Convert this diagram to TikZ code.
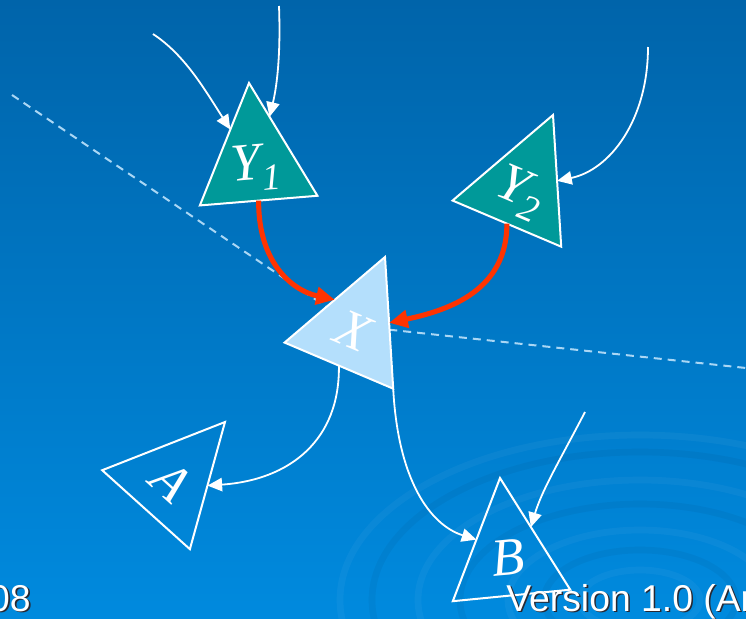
\documentclass[tikz,border=0pt]{standalone}
\usepackage{fontspec}
\setmainfont{Liberation Serif}
\newfontfamily\footfont{Liberation Sans}
\usepackage{xcolor}
\usepackage{tikz}
\usetikzlibrary{shapes.geometric, arrows.meta, calc}

\definecolor{bgtop}{RGB}{0,100,170}
\definecolor{bgbottom}{RGB}{0,138,222}
\definecolor{parentfill}{RGB}{0,153,153}
\definecolor{queryfill}{RGB}{180,223,252}
\definecolor{influence}{RGB}{255,51,0}
\definecolor{cutline}{RGB}{170,215,245}
\definecolor{shadowc}{RGB}{40,40,50}

\newcommand{\shadowed}[1]{\rlap{\kern1.2pt\raisebox{-1.2pt}{\color{shadowc}#1}}#1}

\begin{document}
\begin{tikzpicture}[x=0.75pt, y=-0.75pt,
  tri/.style    = {isosceles triangle, isosceles triangle stretches,
                   shape border rotate=90, minimum width=88.5pt,
                   minimum height=88.5pt, inner sep=0pt, outer sep=0pt,
                   draw=white, line width=1.5pt, anchor=apex},
  parent/.style = {tri, fill=parentfill},
  query/.style  = {tri, fill=queryfill},
  child/.style  = {tri},
  letter/.style = {text=white, inner sep=0pt,
                   font=\fontsize{40}{40}\selectfont\itshape},
  foot/.style   = {text=white, inner sep=0pt,
                   font=\footfont\fontsize{28}{28}\selectfont},
  link/.style   = {-{Triangle[length=11pt,width=10pt]}, white, line width=1.35pt},
  infl/.style   = {-{Triangle[length=14pt,width=13pt]}, influence, line width=3.8pt},
  cut/.style    = {cutline, line width=1.5pt, dash pattern=on 6pt off 4.5pt}
]

% ---------- background ----------
\useasboundingbox (0,0) rectangle (746,618);
\clip (0,0) rectangle (746,618);
\fill[top color=bgtop, bottom color=bgbottom] (0,0) rectangle (746,618);

\coordinate (rc) at (640,600);
\foreach \rx/\ry/\ringcol in {300/165/white, 268/148/black, 222/120/white,
                              180/96/black, 132/70/white, 96/50/black, 60/30/white}
  \draw[\ringcol, opacity=0.04, line width=5pt] (rc) ellipse [x radius=\rx, y radius=\ry];

% ---------- cut line ----------
\coordinate (d1) at (12,95);
\coordinate (d2) at (355,326);
\coordinate (d3) at (746,368);
\draw[cut] (d1) -- (d2) -- (d3);

% ---------- triangles ----------
\node[parent, rotate=4.7] (Y1) at (249,83)  {};
\node[parent, rotate=-23] (Y2) at (553,115) {};
\node[query,  rotate=-23] (X)  at (385,257) {};
\node[child,  rotate=-42] (A)  at (225,422) {};
\node[child,  rotate=5.6] (B)  at (500,478) {};

% ---------- letters ----------
\node[letter, rotate=4.7] (Y1l) at ($(Y1.apex)!0.72!(Y1.lower side)$)
  {Y\raisebox{-9pt}{\fontsize{28}{28}\selectfont 1}};
\node[letter, rotate=-23] (Y2l) at ($(Y2.apex)!0.72!(Y2.lower side)$)
  {Y\raisebox{-9pt}{\fontsize{28}{28}\selectfont 2}};
\node[letter, rotate=-23] (Xl)  at ($(X.apex)!0.68!(X.lower side)$) {X};
\node[letter, rotate=-42] (Al)  at ($(A.apex)!0.68!(A.lower side)$) {A};
\node[letter, rotate=5.6] (Bl)  at ($(B.apex)!0.68!(B.lower side)$) {B};

% ---------- arrows ----------
\coordinate (s1) at (153,34);
\coordinate (s2) at (279,6);
\coordinate (s3) at (648,47);
\coordinate (s4) at (585,412);

\draw[link] (s1) .. controls (185,55) and (205,90) .. ($(Y1.apex)!0.38!(Y1.left corner)$);
\draw[link] (s2) .. controls (281,60) and (276,90) .. ($(Y1.apex)!0.3!(Y1.right corner)$);
\draw[link] (s3) .. controls (648,120) and (610,170) .. (Y2.right side);

\draw[infl] (Y1.lower side) .. controls (258,260) and (290,290) .. (X.left side);
\draw[infl] (Y2.lower side) .. controls (507,290) and (450,310) .. (X.right side);

\draw[link] (X.lower side) .. controls (340,440) and (290,480) .. (A.right side);
\draw[link] (X.right corner) .. controls (398,480) and (430,525) .. (B.left side);
\draw[link] (s4) .. controls (560,460) and (542,490) .. ($(B.apex)!0.44!(B.right corner)$);

% ---------- footer ----------
\node[foot, anchor=base east] (yr)  at (31,611)  {\shadowed{08}};
\node[foot, anchor=base west] (ver) at (506,611) {\shadowed{Version 1.0 (Ar}};

\end{tikzpicture}
\end{document}
